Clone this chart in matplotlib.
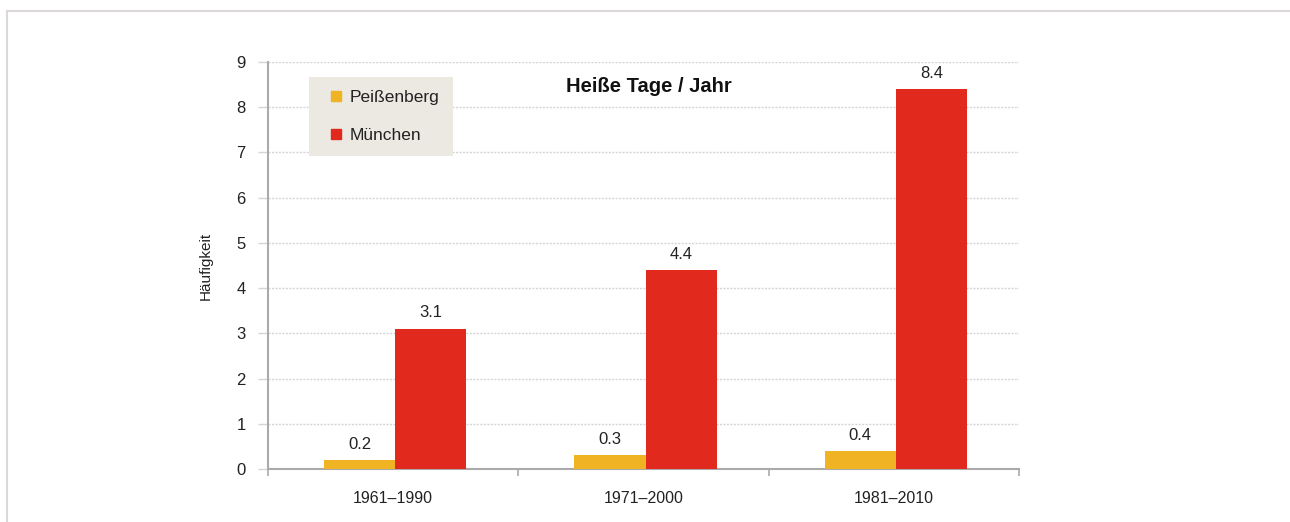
import matplotlib.pyplot as plt
from matplotlib.lines import Line2D
import numpy as np

plt.rcParams["font.family"] = ["Liberation Sans", "DejaVu Sans"]

zeitraum = ["1961–1990", "1971–2000", "1981–2010"]
peissenberg = [0.2, 0.3, 0.4]
muenchen = [3.1, 4.4, 8.4]
serien = ["Peißenberg", "München"]
farben = ["#f0b323", "#e2291d"]

fig = plt.figure(figsize=(12.9, 5.22), dpi=100)
ax = fig.add_axes([268 / 1290, 1 - 469 / 522, 751 / 1290, 407 / 522])

x = np.arange(len(zeitraum))
w = 0.284
b1 = ax.bar(x - w / 2 + 0.008, peissenberg, w, color=farben[0], zorder=3)
b2 = ax.bar(x + w / 2 + 0.008, muenchen, w, color=farben[1], zorder=3)

# Werte über den Balken
for bars in (b1, b2):
    for r in bars:
        ax.annotate(f"{r.get_height():.1f}", (r.get_x() + r.get_width() / 2, r.get_height()),
                    xytext=(0, 6), textcoords="offset points", ha="center", va="bottom",
                    fontsize=12, color="#222222")

ax.set_xlim(-0.5, 2.5)
ax.set_ylim(0, 9)
ax.set_yticks(range(0, 10))
ax.set_xticks(x)
ax.set_xticklabels(zeitraum)
ax.set_xticks([-0.5, 0.5, 1.5, 2.5], minor=True)
ax.tick_params(axis="x", which="major", length=0, pad=16, labelsize=11.5, labelcolor="#222222")
ax.tick_params(axis="x", which="minor", length=5, color="#aaaaaa", width=1.2)
ax.tick_params(axis="y", length=7, color="#d5d5d5", width=1, pad=9, labelsize=12, labelcolor="#222222")

ax.grid(axis="y", color="#d5d5d5", linestyle=(0, (1.5, 1)), linewidth=1, zorder=0)
for s in ("top", "right"):
    ax.spines[s].set_visible(False)
for s in ("left", "bottom"):
    ax.spines[s].set_color("#aaaaaa")
    ax.spines[s].set_linewidth(1.5)

ax.set_ylabel("Häufigkeit", fontsize=11, labelpad=17, color="#222222")

ax.text(0.507, 0.941, "Heiße Tage / Jahr", transform=ax.transAxes, ha="center", va="center",
        fontsize=14.5, fontweight="bold", color="#111111")

handles = [Line2D([], [], marker="s", linestyle="none", markersize=7.5, color=c) for c in farben]
leg = ax.legend(handles, serien, loc="upper left", bbox_to_anchor=(0.0546, 0.963),
                fontsize=12.5, frameon=True, facecolor="#ebe9e1", edgecolor="none",
                fancybox=False, framealpha=1, labelspacing=1.3, handletextpad=0.0,
                handlelength=1.6, borderpad=0.75, borderaxespad=0)
for t in leg.get_texts():
    t.set_color("#222222")

# heller Rahmen oben und links
fig.add_artist(Line2D([7 / 1290, 1], [1 - 11 / 522, 1 - 11 / 522], color="#dcd8d8", linewidth=1.5))
fig.add_artist(Line2D([7 / 1290, 7 / 1290], [0, 1 - 11 / 522], color="#dcd8d8", linewidth=1.5))

fig.savefig("out.png", dpi=100, facecolor="white")
